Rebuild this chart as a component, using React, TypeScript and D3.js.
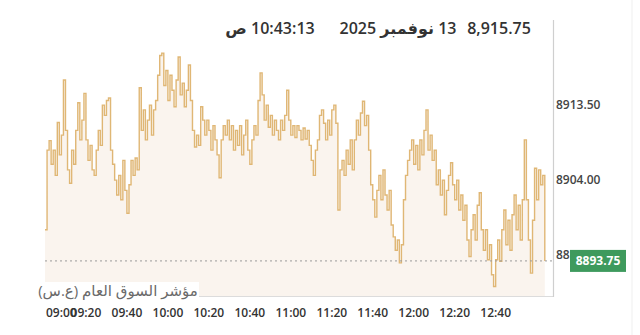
import React from "react";
import * as d3 from "d3";

// minutes after 09:00, one value per minute
const values: number[] = [
  8897.7, 8907.8, 8909.0, 8906.0, 8907.8, 8904.6, 8911.3, 8907.2, 8909.7, 8916.7,
  8910.3, 8905.3, 8903.6, 8907.8, 8906.0, 8910.3, 8913.8, 8909.1, 8911.6, 8915.0,
  8909.1, 8906.5, 8908.4, 8905.3, 8904.6, 8907.8, 8910.3, 8908.4, 8913.5, 8912.2,
  8914.1, 8914.4, 8907.8, 8906.0, 8904.0, 8902.1, 8904.6, 8901.5, 8906.5, 8902.7,
  8899.8, 8903.4, 8906.5, 8904.6, 8906.8, 8905.3, 8915.7, 8910.3, 8912.9, 8909.1,
  8911.6, 8913.5, 8909.7, 8912.9, 8914.1, 8917.3, 8919.8, 8920.1, 8916.0, 8917.9,
  8914.1, 8917.3, 8915.4, 8913.3, 8916.7, 8919.6, 8914.8, 8916.3, 8913.3, 8915.4,
  8918.6, 8914.1, 8910.3, 8908.2, 8909.7, 8908.4, 8913.3, 8911.6, 8909.7, 8911.6,
  8910.3, 8907.8, 8910.9, 8909.1, 8907.2, 8904.3, 8909.1, 8910.9, 8909.7, 8911.6,
  8909.1, 8910.9, 8907.8, 8910.3, 8908.4, 8910.9, 8907.2, 8909.7, 8911.6, 8907.8,
  8906.0, 8909.1, 8910.9, 8909.7, 8914.1, 8917.6, 8914.8, 8911.6, 8913.5, 8910.7,
  8912.2, 8909.7, 8911.6, 8910.3, 8909.1, 8911.6, 8910.3, 8912.2, 8915.4, 8911.6,
  8909.7, 8910.9, 8909.4, 8910.9, 8910.3, 8909.1, 8910.6, 8909.2, 8910.3, 8908.4,
  8906.5, 8904.6, 8907.8, 8909.1, 8912.2, 8912.9, 8911.2, 8909.1, 8911.6, 8909.7,
  8912.9, 8913.5, 8911.2, 8900.2, 8905.3, 8906.5, 8904.6, 8907.8, 8906.0, 8909.1,
  8905.3, 8909.1, 8911.6, 8909.7, 8912.5, 8914.0, 8910.9, 8912.2, 8907.8, 8903.4,
  8901.5, 8899.3, 8902.7, 8904.6, 8901.5, 8905.3, 8902.1, 8900.2, 8902.7, 8898.3,
  8896.8, 8895.1, 8896.4, 8893.5, 8895.8, 8901.5, 8904.6, 8906.5, 8907.8, 8909.1,
  8906.0, 8908.4, 8905.3, 8909.1, 8907.2, 8910.3, 8912.9, 8907.8, 8909.7, 8906.5,
  8907.8, 8903.4, 8905.3, 8902.1, 8904.0, 8899.6, 8902.7, 8904.6, 8906.2, 8903.4,
  8901.5, 8904.0, 8900.2, 8902.1, 8898.9, 8900.8, 8896.4, 8894.3, 8897.7, 8899.6,
  8896.4, 8900.8, 8902.4, 8897.7, 8895.1, 8897.7, 8893.9, 8895.8, 8892.0, 8890.5,
  8893.9, 8896.4, 8893.7, 8897.7, 8900.2, 8895.8, 8898.9, 8895.1, 8899.6, 8902.1,
  8897.7, 8900.8, 8896.4, 8901.5, 8909.1, 8901.5, 8896.4, 8892.2, 8898.9, 8905.5,
  8901.5, 8905.3, 8903.4, 8904.6, 8893.75,
];

const xTickLabels = ["09:00", "09:20", "09:40", "10:00", "10:20", "10:40", "11:00", "11:20", "11:40", "12:00", "12:20", "12:40"];
const yTickValues = [8894.5, 8904.0, 8913.5];
const lastPrice = 8893.75;
const headerValue = "8,915.75";
const headerDate = "13 نوفمبر 2025";
const headerTime = "10:43:13 ص";
const indexName = "مؤشر السوق العام (ع.س)";

const W = 640;
const H = 335;
const left = 45;
const right = 553;
const top = 20;
const bottom = 296;
const font = "'Open Sans', 'DejaVu Sans', sans-serif";

export default function App() {
  const x = d3.scaleLinear().domain([0, 248]).range([left, right]);
  const y = d3.scaleLinear().domain([8889.3, 8924.3]).range([bottom, top]);

  const line = d3
    .line<number>()
    .x((_, i) => x(i))
    .y((d) => y(d))
    .curve(d3.curveStepAfter);
  const area = d3
    .area<number>()
    .x((_, i) => x(i))
    .y0(bottom)
    .y1((d) => y(d))
    .curve(d3.curveStepAfter);

  return (
    <div style={{ position: "fixed", left: 0, top: 0 }}>
      <svg width={W} height={H} style={{ display: "block", background: "#fff" }}>
        <line x1={632} x2={632} y1={0} y2={H} stroke="#efefef" strokeWidth={1} />
        <path d={area(values) || ""} fill="#faf4ee" />
        <path
          d={line(values) || ""}
          fill="none"
          stroke="#d6a04a"
          strokeOpacity={0.75}
          strokeWidth={1.4}
        />
        <line
          x1={left}
          x2={right}
          y1={y(lastPrice)}
          y2={y(lastPrice)}
          stroke="#9a9a9a"
          strokeWidth={1}
          strokeDasharray="2,3"
        />
        <line x1={left} x2={right} y1={bottom + 0.5} y2={bottom + 0.5} stroke="#dcdcdc" strokeWidth={1.2} />
        <line x1={right + 0.5} x2={right + 0.5} y1={top} y2={bottom + 1} stroke="#cfcfcf" strokeWidth={1.2} />

        {yTickValues.map((v) => (
          <text
            key={v}
            x={556}
            y={y(v)}
            dy="0.35em"
            fontFamily={font}
            fontSize={12}
            fontWeight={600}
            fill="#444"
          >
            {v.toFixed(2)}
          </text>
        ))}

        <rect x={570} y={y(lastPrice) - 11} width={56} height={22} fill="#3e9a5d" />
        <text
          x={598}
          y={y(lastPrice)}
          dy="0.36em"
          textAnchor="middle"
          fontFamily={font}
          fontSize={12}
          fontWeight={700}
          fill="#fff"
        >
          {lastPrice.toFixed(2)}
        </text>

        {xTickLabels.map((t, i) => (
          <text
            key={t}
            x={i === 0 ? left + 1 : x(i * 20)}
            y={317}
            textAnchor={i === 0 ? "start" : "middle"}
            fontFamily={font}
            fontSize={12}
            fontWeight={600}
            fill="#333"
          >
            {t}
          </text>
        ))}

        <rect x={35} y={282} width={164} height={20} fill="#fff" />
        <text
          x={118}
          y={296}
          textAnchor="middle"
          direction="rtl"
          fontFamily={font}
          fontSize={15}
          fill="#6a6a6a"
        >
          {indexName}
        </text>

        <text x={499} y={34} textAnchor="middle" fontFamily={font} fontSize={16} fontWeight={600} fill="#333">
          {headerValue}
        </text>
        <text
          x={398}
          y={34}
          textAnchor="middle"
          direction="rtl"
          fontFamily={font}
          fontSize={16}
          fontWeight={600}
          fill="#333"
        >
          {headerDate}
        </text>
        <text
          x={270}
          y={34}
          textAnchor="middle"
          direction="rtl"
          fontFamily={font}
          fontSize={16}
          fontWeight={600}
          fill="#333"
        >
          {headerTime}
        </text>
      </svg>
    </div>
  );
}
